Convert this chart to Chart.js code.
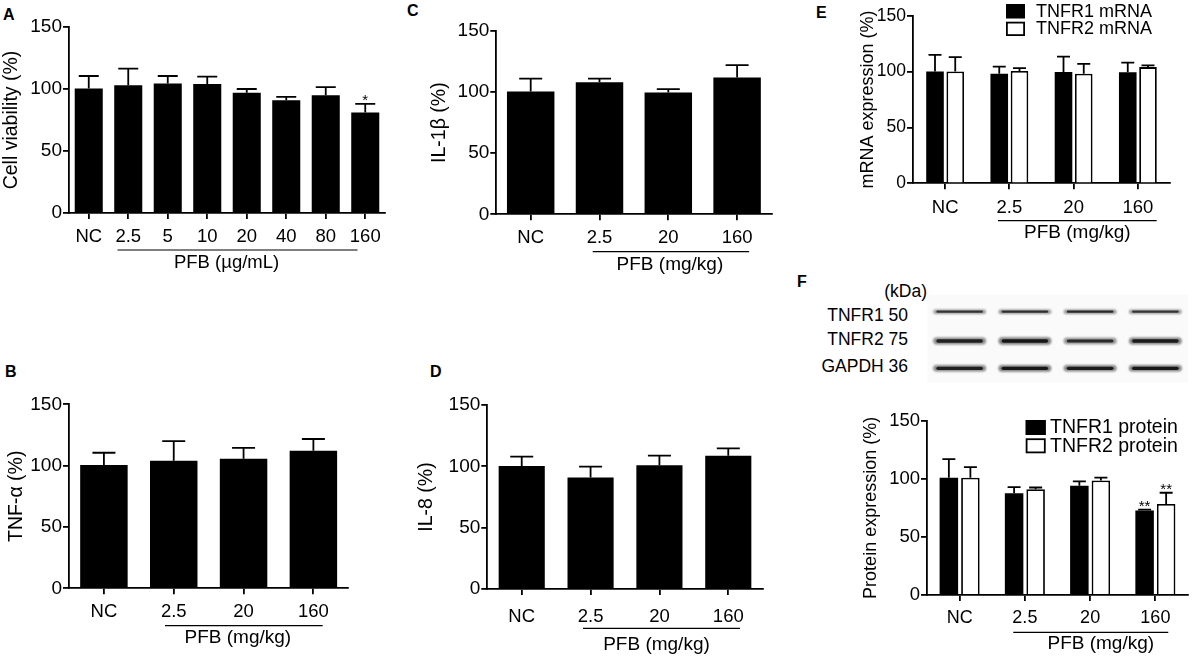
<!DOCTYPE html>
<html>
<head>
<meta charset="utf-8">
<script src="https://cdn.jsdelivr.net/npm/chart.js@4.4.0/dist/chart.umd.min.js"></script>
<style>
    html, body { margin: 0; padding: 0; background: #fff; }
    body { width: 1192px; height: 657px; position: relative; overflow: hidden;
           font-family: 'Liberation Sans', Arial, sans-serif; color: #000; }
    canvas { position: absolute; }
    .lbl { position: absolute; white-space: nowrap; line-height: 1; }
    .letter { font-weight: bold; font-size: 16px; }
    .blot { font-size: 17.5px; text-align: right; }
</style>
</head>
<body>
<div class="lbl letter" style="left:3px;top:7px">A</div>
<div class="lbl letter" style="left:5px;top:364px">B</div>
<div class="lbl letter" style="left:407px;top:3px">C</div>
<div class="lbl letter" style="left:430px;top:364px">D</div>
<div class="lbl letter" style="left:816px;top:5px">E</div>
<div class="lbl letter" style="left:797px;top:274px">F</div>
<div class="lbl blot" style="right:265px;top:283px">(kDa)</div>
<div id="blotLabels"></div>

<script>
const FONT = "'Liberation Sans', Arial, sans-serif";

// A - cell viability
const doseLabelsA = ['NC', '2.5', '5', '10', '20', '40', '80', '160'];
const cellViability = [100.5, 103, 104.5, 104, 97, 91, 95, 81];
const cellViabilitySD = [10, 13.5, 6, 6, 3, 2.7, 6.5, 7];
const cellViabilityStars = ['', '', '', '', '', '', '', '*'];

// B, C, D - cytokines
const doseLabels = ['NC', '2.5', '20', '160'];
const tnfAlpha = [100.5, 104, 105.7, 112.2];
const tnfAlphaSD = [10, 16, 8.7, 9.5];
const il1b = [100.5, 108, 99.7, 112];
const il1bSD = [10.5, 3, 2.8, 10];
const il8 = [100.3, 90.8, 100.8, 108.7];
const il8SD = [7.6, 9, 7.9, 6];

// E - receptor mRNA
const tnfr1mRNA = [100, 98, 99.7, 99.4];
const tnfr1mRNASD = [15, 6.5, 13.7, 8.6];
const tnfr2mRNA = [100, 100.5, 98, 104];
const tnfr2mRNASD = [13, 2.5, 8.8, 1.6];

// F - receptor protein
const tnfr1Protein = [101, 87.6, 94, 72.7];
const tnfr1ProteinSD = [16, 5.2, 3.7, 0.8];
const tnfr2Protein = [101, 91, 98.5, 78.4];
const tnfr2ProteinSD = [9, 1.5, 2.5, 9.6];
const proteinStars = ['', '', '', '**'];

// western blot rows and relative band density per lane
const blotRows = ['TNFR1 50', 'TNFR2 75', 'GAPDH 36'];
const bandTNFR1 = [0.62, 0.66, 0.72, 0.6];
const bandTNFR2 = [0.82, 0.97, 0.72, 0.92];
const bandGAPDH = [0.84, 0.95, 0.9, 0.94];

const yTickValues = [0, 50, 100, 150];

// blot labels
const blotTop = [306.5, 330.8, 358.2];
document.getElementById('blotLabels').innerHTML = blotRows.map((r, i) =>
    `<div class="lbl blot" style="right:284px;top:${blotTop[i]}px">${r}</div>`).join('');

// error bars + significance stars
const errorBars = {
    id: 'errorBars',
    afterDatasetsDraw(chart, args, opts) {
        const ctx = chart.ctx;
        const y = chart.scales.y;
        chart.data.datasets.forEach((ds, di) => {
            const meta = chart.getDatasetMeta(di);
            meta.data.forEach((bar, i) => {
                const top = y.getPixelForValue(ds.data[i] + ds.sd[i]);
                ctx.save();
                ctx.strokeStyle = '#000';
                ctx.lineWidth = 1.8;
                ctx.beginPath();
                ctx.moveTo(bar.x, bar.y);
                ctx.lineTo(bar.x, top);
                ctx.moveTo(bar.x - opts.cap / 2, top);
                ctx.lineTo(bar.x + opts.cap / 2, top);
                ctx.stroke();
                if (ds.stars && ds.stars[i]) {
                    ctx.fillStyle = '#000';
                    ctx.font = '15px ' + FONT;
                    ctx.textAlign = 'center';
                    ctx.textBaseline = 'alphabetic';
                    ctx.fillText(ds.stars[i], bar.x, top + 1);
                }
                ctx.restore();
            });
        });
    }
};

// underline + "PFB (...)" under the dosed groups
const groupLabel = {
    id: 'groupLabel',
    afterDraw(chart, args, opts) {
        if (!opts.text) return;
        const ctx = chart.ctx;
        const x = chart.scales.x;
        const b = chart.chartArea.bottom;
        const x0 = x.getPixelForValue(opts.from) - opts.padL;
        const x1 = x.getPixelForValue(opts.to) + opts.padR;
        const ly = b + opts.lineY;
        ctx.save();
        ctx.strokeStyle = '#000';
        ctx.lineWidth = 1.2;
        ctx.beginPath();
        ctx.moveTo(x0, ly);
        ctx.lineTo(x1, ly);
        ctx.stroke();
        ctx.fillStyle = '#000';
        ctx.font = opts.size + 'px ' + FONT;
        ctx.textAlign = 'center';
        ctx.textBaseline = 'middle';
        ctx.fillText(opts.text, (x0 + x1) / 2 + opts.textDx, ly + opts.textDy);
        ctx.restore();
    }
};

// square legend inside the plot
const boxLegend = {
    id: 'boxLegend',
    afterDraw(chart, args, opts) {
        if (!opts.show) return;
        const ctx = chart.ctx;
        const area = chart.chartArea;
        chart.data.datasets.forEach((ds, i) => {
            const bx = area.left + opts.x;
            const by = area.top + opts.y + i * opts.row;
            ctx.save();
            ctx.fillStyle = ds.backgroundColor;
            ctx.fillRect(bx, by, opts.w, opts.h);
            ctx.strokeStyle = '#000';
            ctx.lineWidth = 1.8;
            ctx.strokeRect(bx + 0.9, by + 0.9, opts.w - 1.8, opts.h - 1.8);
            ctx.fillStyle = '#000';
            ctx.font = opts.size + 'px ' + FONT;
            ctx.textAlign = 'left';
            ctx.textBaseline = 'middle';
            ctx.fillText(ds.label, bx + opts.w + opts.gap, by + opts.h / 2 + 0.5);
            ctx.restore();
        });
    }
};

// western blot bands above panel F, lanes follow the x categories
const blotPlugin = {
    id: 'blot',
    beforeDraw(chart, args, opts) {
        if (!opts.show) return;
        const ctx = chart.ctx;
        const x = chart.scales.x;
        const top = chart.chartArea.top;
        const step = x.getPixelForValue(1) - x.getPixelForValue(0);
        const laneW = step * opts.laneFrac;
        const bands = [bandTNFR1, bandTNFR2, bandGAPDH];
        ctx.save();
        ctx.fillStyle = 'rgba(0,0,0,0.018)';
        ctx.fillRect(x.getPixelForValue(0) - laneW / 2 - 6, top + opts.membrane[0],
            x.getPixelForValue(3) - x.getPixelForValue(0) + laneW + 12, opts.membrane[1]);
        bands.forEach((dens, r) => {
            const cy = top + opts.rowY[r];
            dens.forEach((d, i) => {
                const cx = x.getPixelForValue(i);
                const h = opts.thick[r] * (0.6 + 0.45 * d);
                ctx.filter = 'blur(1.1px)';
                ctx.fillStyle = `rgba(40,40,40,${0.25 + 0.35 * d})`;
                ctx.beginPath();
                ctx.roundRect(cx - laneW / 2, cy - h / 2, laneW, h, h / 2);
                ctx.fill();
                ctx.filter = 'blur(0.7px)';
                ctx.fillStyle = `rgba(15,15,15,${0.4 + 0.55 * d})`;
                ctx.beginPath();
                ctx.roundRect(cx - laneW * 0.44, cy - h * 0.25, laneW * 0.88, h * 0.5, h * 0.25);
                ctx.fill();
            });
        });
        ctx.restore();
    }
};

function makePanel(box, plot, cfg) {
    const cv = document.createElement('canvas');
    cv.width = box.w;
    cv.height = box.h;
    cv.style.left = box.left + 'px';
    cv.style.top = box.top + 'px';
    cv.style.width = box.w + 'px';
    cv.style.height = box.h + 'px';
    document.body.appendChild(cv);

    return new Chart(cv.getContext('2d'), {
        type: 'bar',
        data: { labels: cfg.labels, datasets: cfg.datasets },
        options: {
            responsive: false,
            animation: false,
            events: [],
            layout: {
                padding: { left: 0, bottom: 0, top: plot.top - box.top, right: box.left + box.w - plot.right }
            },
            datasets: { bar: { categoryPercentage: cfg.catPct, barPercentage: cfg.barPct } },
            scales: {
                x: {
                    ticks: { color: '#000', font: { family: FONT, size: cfg.xSize || 18.5 }, padding: cfg.xPad, autoSkip: false, maxRotation: 0 },
                    grid: { display: true, drawOnChartArea: false, drawTicks: true, tickLength: 6, offset: false, color: '#000', lineWidth: 1.8 },
                    border: { display: true, color: '#000', width: 1.8 },
                    afterFit: s => { s.height = box.top + box.h - plot.bottom; }
                },
                y: {
                    min: 0, max: 150,
                    afterBuildTicks: s => { s.ticks = yTickValues.map(v => ({ value: v })); },
                    ticks: { color: '#000', font: { family: FONT, size: cfg.ySize || 19 }, padding: 1 },
                    grid: { display: true, drawOnChartArea: false, drawTicks: true, tickLength: 6, color: '#000', lineWidth: 1.8 },
                    border: { display: true, color: '#000', width: 1.8 },
                    title: { display: true, text: cfg.yTitle, color: '#000', font: { family: FONT, size: cfg.titleSize || 19.5 }, padding: 0 },
                    afterFit: s => { s.width = plot.left - box.left; }
                }
            },
            plugins: {
                legend: { display: false },
                tooltip: { enabled: false },
                errorBars: { cap: cfg.cap },
                groupLabel: cfg.group,
                boxLegend: cfg.legend || { show: false },
                blot: cfg.blot || { show: false }
            }
        },
        plugins: [blotPlugin, errorBars, groupLabel, boxLegend]
    });
}

const black = (label, data, sd, stars) => ({ label, data, sd, stars, backgroundColor: '#000', borderColor: '#000', borderWidth: 0 });
const white = (label, data, sd, stars) => ({ label, data, sd, stars, backgroundColor: '#fff', borderColor: '#000', borderWidth: 1.8 });

// A
makePanel({ left: 0, top: 0, w: 392, h: 280 }, { left: 69, top: 27, right: 385, bottom: 213 }, {
    labels: doseLabelsA,
    datasets: [black('Cell viability', cellViability, cellViabilitySD, cellViabilityStars)],
    catPct: 0.71, barPct: 1, cap: 20, xPad: 7,
    yTitle: 'Cell viability (%)',
    group: { text: 'PFB (µg/mL)', from: 1, to: 7, padL: 10.7, padR: -7.7, lineY: 37, textDy: 13, textDx: -11, size: 18.5 }
});

// B
makePanel({ left: 5, top: 380, w: 352, h: 275 }, { left: 69, top: 404.3, right: 348.3, bottom: 588.3 }, {
    labels: doseLabels,
    datasets: [black('TNF-α', tnfAlpha, tnfAlphaSD)],
    catPct: 0.68, barPct: 1, cap: 23, xPad: 7,
    yTitle: 'TNF-α (%)',
    group: { text: 'PFB (mg/kg)', from: 1, to: 3, padL: 8.7, padR: 9.3, lineY: 37.4, textDy: 12.5, textDx: -6, size: 19 }
});

// C
makePanel({ left: 428, top: 0, w: 352, h: 280 }, { left: 496.3, top: 31, right: 771.5, bottom: 214.3 }, {
    labels: doseLabels,
    datasets: [black('IL-1β', il1b, il1bSD)],
    catPct: 0.69, barPct: 1, cap: 23, xPad: 7,
    yTitle: 'IL-1β (%)',
    group: { text: 'PFB (mg/kg)', from: 1, to: 3, padL: 6.8, padR: 12, lineY: 37.4, textDy: 13.3, textDx: -1, size: 19 }
});

// D
makePanel({ left: 415, top: 380, w: 356, h: 275 }, { left: 487.3, top: 405, right: 762.7, bottom: 589 }, {
    labels: doseLabels,
    datasets: [black('IL-8', il8, il8SD)],
    catPct: 0.67, barPct: 1, cap: 23, xPad: 11,
    yTitle: 'IL-8 (%)',
    group: { text: 'PFB (mg/kg)', from: 1, to: 3, padL: 7.6, padR: 11.7, lineY: 39.3, textDy: 16.5, textDx: -5, size: 19 }
});

// E
makePanel({ left: 857, top: 0, w: 335, h: 250 }, { left: 913, top: 15.7, right: 1170, bottom: 183.3 }, {
    labels: doseLabels,
    datasets: [
        black('TNFR1 mRNA', tnfr1mRNA, tnfr1mRNASD),
        white('TNFR2 mRNA', tnfr2mRNA, tnfr2mRNASD)
    ],
    catPct: 0.63, barPct: 0.87, cap: 13, xPad: 7.5, ySize: 17.5, titleSize: 18,
    yTitle: 'mRNA expression (%)',
    group: { text: 'PFB (mg/kg)', from: 1, to: 3, padL: 11.4, padR: 18.8, lineY: 37.4, textDy: 12.3, textDx: 0, size: 19 },
    legend: { show: true, x: 93, y: -11.7, w: 19, h: 14.3, row: 17.7, gap: 11, size: 18 }
});

// F
makePanel({ left: 860, top: 270, w: 332, h: 387 }, { left: 927, top: 420.7, right: 1188, bottom: 595 }, {
    labels: doseLabels,
    datasets: [
        black('TNFR1 protein', tnfr1Protein, tnfr1ProteinSD, proteinStars),
        white('TNFR2 protein', tnfr2Protein, tnfr2ProteinSD, proteinStars)
    ],
    catPct: 0.66, barPct: 0.86, cap: 13, xPad: 6.5, xSize: 18, ySize: 18.5, titleSize: 18,
    yTitle: 'Protein expression (%)',
    group: { text: 'PFB (mg/kg)', from: 1, to: 3, padL: 11.6, padR: 12.9, lineY: 37.3, textDy: 11.5, textDx: 10, size: 19 },
    legend: { show: true, x: 98.7, y: -0.7, w: 20, h: 15, row: 18.3, gap: 4.3, size: 19.5 },
    blot: { show: true, laneFrac: 0.81, rowY: [-109, -79.7, -52.4], thick: [5, 7, 6.5], membrane: [-126, 88] }
});
</script>
</body>
</html>
